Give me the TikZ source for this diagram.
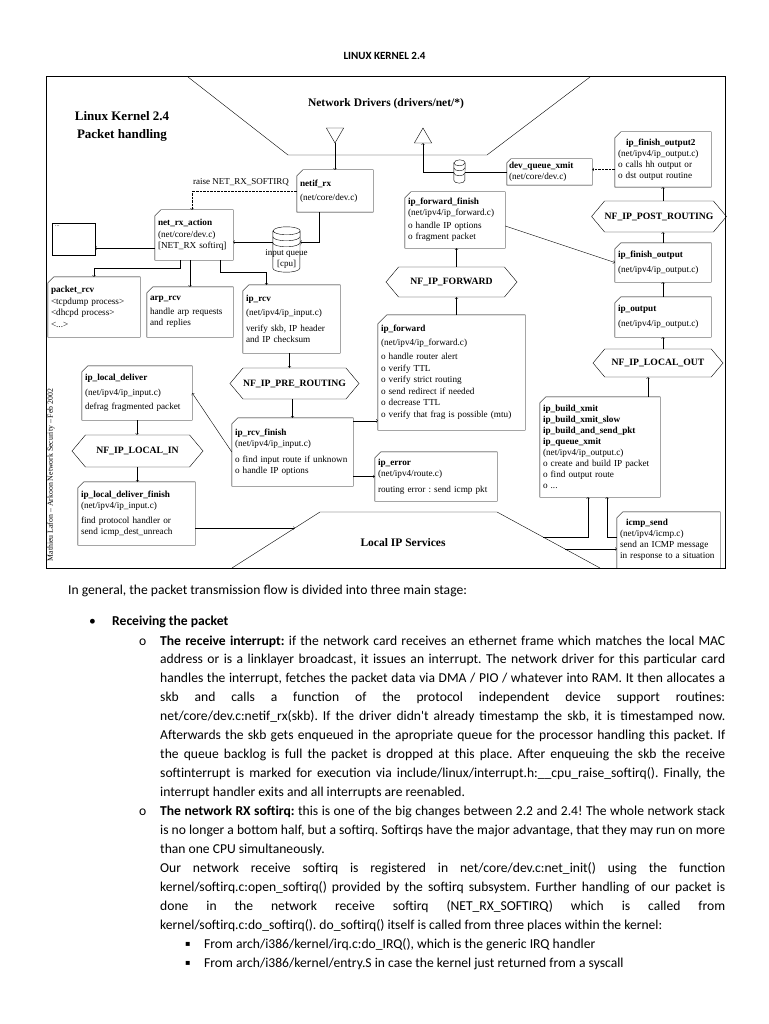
\documentclass[tikz,border=0pt]{standalone}
\usepackage{fontspec}
\setmainfont{Liberation Serif}
\newfontfamily\bodyfont{Carlito}
\newfontfamily\symfont{DejaVu Sans}
\usepackage{tikz}
\usetikzlibrary{calc,shapes.symbols,shapes.geometric}

\begin{document}
\frenchspacing
\begin{tikzpicture}[x=1pt,y=-1pt,
  fn/.style={rectangle, inner sep=3pt, align=left, font=\fontsize{9.2}{11.5}\selectfont,
    append after command={\pgfextra{\draw ([yshift=-#1]\tikzlastnode.north west)
      -- ([xshift=#1]\tikzlastnode.north west) -- (\tikzlastnode.north east)
      -- (\tikzlastnode.south east) -- (\tikzlastnode.south west) -- cycle;}}},
  fn/.default=6pt,
  hk/.style={signal, signal to=west and east, signal pointer angle=100, draw,
    inner sep=0pt, font=\fontsize{9.7}{11}\selectfont\bfseries},
  tri/.style={regular polygon, regular polygon sides=3, minimum size=20pt, inner sep=0pt, draw},
  body/.style={anchor=base west, inner sep=0pt, font=\bodyfont\fontsize{13.6}{16}\selectfont}]
\def\jw#1{\makebox[565pt][s]{#1}}
\useasboundingbox (0,0) rectangle (768,1024);
\fill[white] (0,0) rectangle (768,1024);

% page title and frame
\node[font=\bodyfont\bfseries\fontsize{11}{13}\selectfont] (title) at (384.5,56) {LINUX KERNEL 2.4};
\draw[line width=1pt] (46,77) rectangle (725,568);
\node[font=\fontsize{13}{18}\selectfont\bfseries, align=center] (head) at (122,126) {Linux Kernel 2.4\\Packet handling};
\node[rotate=90, font=\fontsize{7.8}{9}\selectfont] (auth) at (51,475) {Mathieu Lafon -- Arkoon Network Security -- Feb 2002};

% network drivers
\draw (188,77) -- (288,155) -- (487,155) -- (590,77);
\node[font=\fontsize{11.5}{13}\selectfont\bfseries] (drv) at (386,104) {Network Drivers (drivers/net/*)};
\node[tri, shape border rotate=180] (drvin) at (335,133) {};
\node[tri] (drvout) at (423,138) {};

% local ip services
\coordinate (lipBL) at (232,568); \coordinate (lipTL) at (320,512);
\coordinate (lipTR) at (497,512); \coordinate (lipBR) at (600,568);
\draw (lipBL) -- (lipTL) -- (lipTR) -- (lipBR);
\node[font=\fontsize{11.5}{13}\selectfont\bfseries] (lip) at (403,543) {Local IP Services};

% receive side
\node[fn, minimum width=76pt, minimum height=42pt, text width=70pt] (netif) at (335,191)
  {\textbf{netif\_rx}\\[3pt](net/core/dev.c)};
\node[font=\fontsize{9}{10}\selectfont] (raise) at (241,182) {raise NET\_RX\_SOFTIRQ};
\node[fn, minimum width=78pt, minimum height=50pt, text width=72pt] (netrx) at (194,235)
  {\textbf{net\_rx\_action}\\(net/core/dev.c)\\{[NET\_RX softirq]}};
\node[draw, minimum width=43pt, minimum height=32pt] (dots) at (73.5,239) {};
\node[anchor=north west, inner sep=0pt, font=\fontsize{6}{7}\selectfont] (dotstxt) at ([shift={(3pt,-3pt)}]dots.north west) {...};
\node[minimum width=27pt, minimum height=45pt, inner sep=0pt] (iq) at (286.5,249.5) {};
\draw ([yshift=-4pt]iq.north west) -- ([yshift=4pt]iq.south west)
  arc[start angle=180, end angle=360, x radius=13.5pt, y radius=4pt]
  -- ([yshift=-4pt]iq.north east)
  arc[start angle=0, end angle=180, x radius=13.5pt, y radius=4pt]
  arc[start angle=180, end angle=360, x radius=13.5pt, y radius=4pt];
\draw ([yshift=-10pt]iq.north west) arc[start angle=180, end angle=360, x radius=13.5pt, y radius=4pt];
\draw ([yshift=-16pt]iq.north west) arc[start angle=180, end angle=360, x radius=13.5pt, y radius=4pt];
\node[align=center, inner sep=0pt, font=\fontsize{9}{11}\selectfont] (iqtxt) at (286.5,259) {input queue\\{[cpu]}};

\node[fn, minimum width=92pt, minimum height=60pt, text width=86pt] (pktrcv) at (94,307)
  {\textbf{packet\_rcv}\\<tcpdump process>\\<dhcpd process>\\<...>};
\node[fn, minimum width=86pt, minimum height=50pt, text width=80pt] (arprcv) at (190,312)
  {\textbf{arp\_rcv}\\[2pt]handle arp requests\\and replies};
\node[fn, minimum width=97pt, minimum height=68pt, text width=91pt] (iprcv) at (291.5,319)
  {\textbf{ip\_rcv}\\[3pt](net/ipv4/ip\_input.c)\\[4pt]verify skb, IP header\\and IP checksum};
\node[hk, minimum width=129pt, minimum height=31pt] (prert) at (294.5,383.5) {NF\_IP\_PRE\_ROUTING};
\node[fn, minimum width=121pt, minimum height=68pt, text width=115pt] (rcvfin) at (292.5,452)
  {\textbf{ip\_rcv\_finish}\\(net/ipv4/ip\_input.c)\\[4pt]o find input route if unknown\\o handle IP options};
\node[fn, minimum width=110pt, minimum height=54pt, text width=104pt] (locdel) at (137,393)
  {\textbf{ip\_local\_deliver}\\[3pt](net/ipv4/ip\_input.c)\\[3pt]defrag fragmented packet};
\node[hk, minimum width=131pt, minimum height=32pt] (locin) at (137.5,451) {NF\_IP\_LOCAL\_IN};
\node[fn, minimum width=117pt, minimum height=63pt, text width=111pt] (locfin) at (136.5,513.5)
  {\textbf{ip\_local\_deliver\_finish}\\(net/ipv4/ip\_input.c)\\[3pt]find protocol handler or\\send icmp\_dest\_unreach};
\node[fn, minimum width=122pt, minimum height=49pt, text width=116pt] (iperr) at (436,476.5)
  {\textbf{ip\_error}\\(net/ipv4/route.c)\\[4pt]routing error : send icmp pkt};

% forward path
\node[fn=9pt, minimum width=147pt, minimum height=115pt, text width=141pt] (ipfwd) at (451.5,372.5)
  {\textbf{ip\_forward}\\[2pt](net/ipv4/ip\_forward.c)\\[3pt]o handle router alert\\o verify TTL\\o verify strict routing\\o send redirect if needed\\o decrease TTL\\o verify that frag is possible (mtu)};
\node[hk, minimum width=131pt, minimum height=30pt] (fwdhk) at (451.5,282) {NF\_IP\_FORWARD};
\node[fn, minimum width=100pt, minimum height=56pt, text width=94pt] (fwdfin) at (455,220)
  {\textbf{ip\_forward\_finish}\\(net/ipv4/ip\_forward.c)\\[1pt]o handle IP options\\o fragment packet};

% output path
\node[fn=4pt, inner sep=2pt, minimum width=85pt, minimum height=26pt, text width=81pt, font=\fontsize{9.2}{10.5}\selectfont] (devq) at (549.5,172)
  {\textbf{dev\_queue\_xmit}\\(net/core/dev.c)};
\node[fn, minimum width=96pt, minimum height=55pt, text width=90pt, font=\fontsize{9.2}{11}\selectfont] (fout2) at (663,159.5)
  {\hspace*{8pt}\textbf{ip\_finish\_output2}\\(net/ipv4/ip\_output.c)\\o calls hh output or\\o dst output routine};
\node[hk, minimum width=132pt, minimum height=31pt] (posthk) at (659,216.5) {NF\_IP\_POST\_ROUTING};
\node[fn, minimum width=96pt, minimum height=39pt, text width=90pt] (fout) at (663,262.5)
  {\textbf{ip\_finish\_output}\\[3pt](net/ipv4/ip\_output.c)};
\node[fn, minimum width=96pt, minimum height=40pt, text width=90pt] (ipout) at (663,317)
  {\textbf{ip\_output}\\[4pt](net/ipv4/ip\_output.c)};
\node[hk, minimum width=130pt, minimum height=28pt] (lohk) at (658,363) {NF\_IP\_LOCAL\_OUT};
\node[fn, minimum width=120pt, minimum height=100pt, text width=114pt, font=\fontsize{9.2}{11}\selectfont] (bxmit) at (600,447)
  {\textbf{ip\_build\_xmit}\\\textbf{ip\_build\_xmit\_slow}\\\textbf{ip\_build\_and\_send\_pkt}\\\textbf{ip\_queue\_xmit}\\(net/ipv4/ip\_output.c)\\o create and build IP packet\\o find output route\\o ...};
\node[fn, minimum width=103pt, minimum height=56pt, text width=97pt, font=\fontsize{9.2}{11}\selectfont] (icmp) at (668.5,540)
  {\hspace*{6pt}\textbf{icmp\_send}\\(net/ipv4/icmp.c)\\send an ICMP message\\in response to a situation};

% connectors
\draw[->] (drvin.corner 1) -- (drvin.corner 1 |- netif.north);
\draw[densely dotted, ->] (netif.west) -| ([xshift=-2pt]netrx.north);
\draw[->] ([xshift=-16pt]netif.south) |- ([yshift=7.5pt]iq.east);
\draw[->] ([yshift=7.5pt]iq.west) -- ([yshift=7.5pt]iq.west -| netrx.east);
\draw[->] ([yshift=-13pt]netrx.west) -- ([yshift=-13pt]netrx.west -| dots.east);
\draw[->] ([xshift=-14pt]netrx.south) -- ++(0,8) -| (pktrcv.north);
\draw[->] (netrx.south -| arprcv.north) -- (arprcv.north);
\draw[->] ([xshift=26pt]netrx.south) -- ++(0,12) -| ([xshift=-25pt]iprcv.north);
\draw[->] ([xshift=-2pt]iprcv.south) -- ([xshift=-2pt]iprcv.south |- prert.north);
\draw[->] ([xshift=-2pt]prert.south) -- ([xshift=-2pt]prert.south |- rcvfin.north);
\draw[->] ([yshift=-3pt]rcvfin.north east) -- ([yshift=-3pt]rcvfin.north east -| ipfwd.west);
\draw[->] (rcvfin.east |- iperr.west) -- (iperr.west);
\draw[->] (rcvfin.west) -- (locdel.east);
\draw[->] (locdel.south) -- (locdel.south |- locin.north);
\draw[->] (locin.south) -- (locin.south |- locfin.north);
\coordinate (lipin) at ($(lipBL)!0.714!(lipTL)$);
\draw[->] (locfin.east |- lipin) -- (lipin);
\draw[->] ([xshift=5pt]ipfwd.north) -- ([xshift=5pt]ipfwd.north |- fwdhk.south);
\draw[->] ([xshift=5pt]fwdhk.north) -- ([xshift=5pt]fwdhk.north |- fwdfin.south);
\draw[->] ([yshift=-6pt]fwdfin.east) -- (fout.west);
\draw[->] (fout.north) -- (fout.north |- posthk.south);
\draw[->] (posthk.north -| fout2.south) -- (fout2.south);
\draw[->] (ipout.north) -- (fout.south);
\draw[->] (lohk.north -| ipout.south) -- (ipout.south);
\draw[->] ([xshift=48pt]bxmit.north) -- ([xshift=48pt]bxmit.north |- lohk.south);
\draw[densely dotted, ->] ([yshift=-10pt]fout2.west) -- ([yshift=-10pt]fout2.west -| devq.east);
\draw[->] (devq.west) -| (drvout.south);
\coordinate (lipout) at ($(lipTR)!0.446!(lipBR)$);
\coordinate (lipicmp) at ($(lipTR)!0.661!(lipBR)$);
\draw[->] (lipout) -| ([xshift=-12pt]bxmit.south);
\draw[->] (icmp.west |- lipout) -| ([xshift=7pt]bxmit.south);
\draw[->] (lipicmp) -- (icmp.west |- lipicmp);

% tx queue on the line to the driver
\node[minimum width=11pt, minimum height=23pt, inner sep=0pt] (txq) at (459.5,171.5) {};
\draw[fill=white] ([yshift=-3pt]txq.north west) -- ([yshift=3pt]txq.south west)
  arc[start angle=180, end angle=360, x radius=5.5pt, y radius=3pt]
  -- ([yshift=-3pt]txq.north east)
  arc[start angle=0, end angle=180, x radius=5.5pt, y radius=3pt] -- cycle;
\draw ([yshift=-3pt]txq.north west) arc[start angle=180, end angle=360, x radius=5.5pt, y radius=3pt];
\draw ([yshift=-8pt]txq.north west) arc[start angle=180, end angle=360, x radius=5.5pt, y radius=3pt];
\draw ([yshift=-13pt]txq.north west) arc[start angle=180, end angle=360, x radius=5.5pt, y radius=3pt];

% text below the diagram
\node[body] (intro) at (68,594) {In general, the packet transmission flow is divided into three main stage:};
\node[body] (dot1) at (89,625) {•};
\node[body] (stage) at (112,625) {\bfseries Receiving the packet};
\node[body] (o1) at (139,645) {o};
\node[body] (l1) at (160,645) {\jw{\textbf{The receive interrupt:} if the network card receives an ethernet frame which matches the local MAC}};
\node[body] (l2) at (160,663.95) {\jw{address or is a linklayer broadcast, it issues an interrupt. The network driver for this particular card}};
\node[body] (l3) at (160,682.9) {\jw{handles the interrupt, fetches the packet data via DMA / PIO / whatever into RAM. It then allocates a}};
\node[body] (l4) at (160,701.85) {\jw{skb and calls a function of the protocol independent device support routines:}};
\node[body] (l5) at (160,720.8) {\jw{net/core/dev.c:netif\_rx(skb). If the driver didn't already timestamp the skb, it is timestamped now.}};
\node[body] (l6) at (160,739.75) {\jw{Afterwards the skb gets enqueued in the apropriate queue for the processor handling this packet. If}};
\node[body] (l7) at (160,758.7) {\jw{the queue backlog is full the packet is dropped at this place. After enqueuing the skb the receive}};
\node[body] (l8) at (160,777.65) {\jw{softinterrupt is marked for execution via include/linux/interrupt.h:\_\_cpu\_raise\_softirq(). Finally, the}};
\node[body] (l9) at (160,796.6) {interrupt handler exits and all interrupts are reenabled.};
\node[body] (o2) at (139,815.55) {o};
\node[body] (l10) at (160,815.55) {\jw{\textbf{The network RX softirq:} this is one of the big changes between 2.2 and 2.4! The whole network stack}};
\node[body] (l11) at (160,834.5) {\jw{is no longer a bottom half, but a softirq. Softirqs have the major advantage, that they may run on more}};
\node[body] (l12) at (160,853.45) {than one CPU simultaneously.};
\node[body] (l13) at (160,872.4) {\jw{Our network receive softirq is registered in net/core/dev.c:net\_init() using the function}};
\node[body] (l14) at (160,891.35) {\jw{kernel/softirq.c:open\_softirq() provided by the softirq subsystem. Further handling of our packet is}};
\node[body] (l15) at (160,910.3) {\jw{done in the network receive softirq (NET\_RX\_SOFTIRQ) which is called from}};
\node[body] (l16) at (160,929.25) {kernel/softirq.c:do\_softirq(). do\_softirq() itself is called from three places within the kernel:};
\node[body, font=\symfont\fontsize{8}{9}\selectfont] (sq1) at (185,946) {▪};
\node[body] (l17) at (204,948.2) {From arch/i386/kernel/irq.c:do\_IRQ(), which is the generic IRQ handler};
\node[body, font=\symfont\fontsize{8}{9}\selectfont] (sq2) at (185,965) {▪};
\node[body] (l18) at (204,967.15) {From arch/i386/kernel/entry.S in case the kernel just returned from a syscall};
\end{tikzpicture}
\end{document}
